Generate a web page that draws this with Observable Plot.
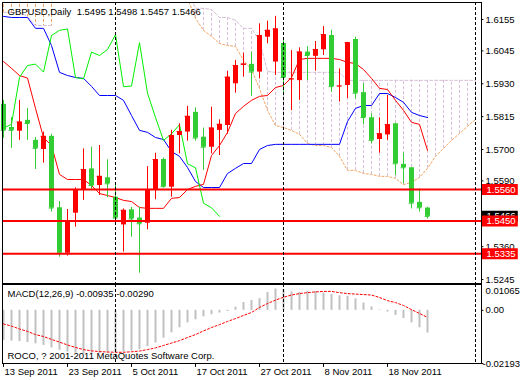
<!DOCTYPE html>
<html><head><meta charset="utf-8">
<script src="https://cdn.jsdelivr.net/npm/d3@7"></script>
<script src="https://cdn.jsdelivr.net/npm/@observablehq/plot@0.6"></script>
<style>
html,body{margin:0;padding:0;background:#fff;}
#wrap{position:relative;width:520px;height:380px;overflow:hidden;background:#fff;}
#main{position:absolute;left:0;top:0;}
#macd{position:absolute;left:0;top:283px;}
</style></head><body>
<div id="wrap"><div id="main"></div><div id="macd"></div></div>
<script>
// ---------- data ----------
const symbol = "GBPUSD", period = "Daily";
const opens  = [1.5858,1.5777,1.5764,1.5802,1.5732,1.5700,1.5746,1.5496,1.5337,1.5477,1.5560,1.5632,1.5574,1.5601,1.5533,1.5436,1.5489,1.5460,1.5442,1.5557,1.5665,1.5568,1.5749,1.5761,1.5830,1.5743,1.5708,1.5767,1.5784,1.5930,1.5994,1.5998,1.5971,1.6093,1.6006,1.6071,1.5944,1.5941,1.6041,1.6026,1.6049,1.6099,1.5920,1.5924,1.6085,1.5899,1.5811,1.5735,1.5751,1.5790,1.5648,1.5636,1.5515,1.5495];
const highs  = [1.5872,1.5812,1.5872,1.5844,1.5742,1.5761,1.5753,1.5518,1.5490,1.5566,1.5702,1.5708,1.5714,1.5664,1.5580,1.5492,1.5498,1.5498,1.5640,1.5687,1.5670,1.5767,1.5790,1.5851,1.5846,1.5775,1.5848,1.5804,1.5974,1.6012,1.6037,1.6041,1.6140,1.6149,1.6166,1.6084,1.6046,1.6056,1.6060,1.6078,1.6130,1.6117,1.5982,1.6075,1.6093,1.5931,1.5825,1.5811,1.5889,1.5792,1.5688,1.5636,1.5562,1.5498];
const lows   = [1.5739,1.5704,1.5732,1.5732,1.5630,1.5652,1.5481,1.5323,1.5327,1.5428,1.5522,1.5557,1.5539,1.5531,1.5446,1.5341,1.5393,1.5267,1.5419,1.5524,1.5565,1.5533,1.5685,1.5729,1.5729,1.5627,1.5685,1.5679,1.5753,1.5897,1.5953,1.5886,1.5947,1.6070,1.5959,1.5889,1.5836,1.5872,1.5941,1.5974,1.6029,1.5900,1.5866,1.5878,1.5877,1.5787,1.5720,1.5687,1.5732,1.5609,1.5580,1.5492,1.5481,1.5457];
const closes = [1.5767,1.5767,1.5796,1.5791,1.5704,1.5746,1.5495,1.5337,1.5449,1.5560,1.5630,1.5574,1.5606,1.5580,1.5460,1.5487,1.5457,1.5440,1.5560,1.5665,1.5570,1.5749,1.5763,1.5816,1.5740,1.5708,1.5775,1.5788,1.5953,1.5994,1.5999,1.5971,1.6099,1.6117,1.6122,1.5952,1.5947,1.6041,1.6029,1.6050,1.6102,1.5920,1.5922,1.6074,1.5897,1.5812,1.5732,1.5755,1.5787,1.5650,1.5636,1.5512,1.5496,1.5466];

const tenkan = [1.6008,1.5984,1.5959,1.5950,1.5844,1.5742,1.5714,1.5613,1.5595,1.5595,1.5595,1.5574,1.5546,1.5539,1.5532,1.5522,1.5518,1.5497,1.5494,1.5494,1.5494,1.5529,1.5532,1.5560,1.5571,1.5578,1.5679,1.5714,1.5760,1.5826,1.5851,1.5872,1.5886,1.5889,1.5917,1.5924,1.5952,1.6015,1.6019,1.6019,1.6019,1.6019,1.6015,1.6005,1.6001,1.5980,1.5949,1.5914,1.5910,1.5872,1.5837,1.5795,1.5788,1.5697];
const kijun  = [1.6166,1.6162,1.6162,1.6162,1.6124,1.6124,1.6064,1.5970,1.5959,1.5952,1.5949,1.5921,1.5889,1.5889,1.5889,1.5872,1.5819,1.5767,1.5760,1.5742,1.5735,1.5693,1.5676,1.5637,1.5588,1.5567,1.5567,1.5567,1.5616,1.5634,1.5651,1.5651,1.5700,1.5714,1.5718,1.5718,1.5718,1.5718,1.5718,1.5718,1.5718,1.5718,1.5718,1.5798,1.5844,1.5854,1.5854,1.5896,1.5896,1.5882,1.5865,1.5830,1.5819,1.5812];
const chikou = [1.5775,1.5788,1.5953,1.5994,1.5999,1.5971,1.6099,1.6117,1.6122,1.5952,1.5947,1.6041,1.6029,1.6050,1.6102,1.5920,1.5922,1.6074,1.5897,1.5812,1.5732,1.5755,1.5787,1.5650,1.5636,1.5512,1.5496,1.5466];
const spanA  = [1.6260,1.6260,1.6260,1.6260,1.6260,1.6260,1.6260,null,null,null,null,null,null,null,null,null,null,null,null,null,null,null,null,1.6229,1.6159,1.6117,1.6096,1.6071,1.6064,1.6061,1.6012,1.5980,1.5914,1.5837,1.5784,1.5777,1.5767,1.5753,1.5721,1.5714,1.5714,1.5707,1.5676,1.5627,1.5627,1.5616,1.5613,1.5606,1.5606,1.5599,1.5577,1.5585,1.5602,1.5634,1.5676,1.5704,1.5732,1.5756,1.5781,1.5805];
const spanB  = [1.6180,1.6180,1.6180,1.6166,1.6134,1.6134,1.6134,null,null,null,null,null,null,null,null,null,null,null,null,null,null,null,null,1.6257,1.6194,1.6194,1.6190,1.6162,1.6162,1.6152,1.6124,1.6124,1.6082,1.5973,1.5970,1.5970,1.5970,1.5970,1.5970,1.5970,1.5970,1.5970,1.5970,1.5942,1.5942,1.5942,1.5942,1.5942,1.5942,1.5942,1.5942,1.5942,1.5942,1.5942,1.5942,1.5942,1.5942,1.5942,1.5942,1.5942];

const macdMain   = [-0.0125,-0.0127,-0.0129,-0.0133,-0.0138,-0.0145,-0.0155,-0.0165,-0.0172,-0.0177,-0.0180,-0.0180,-0.0179,-0.0177,-0.0175,-0.0172,-0.0168,-0.0162,-0.0150,-0.0135,-0.0115,-0.0093,-0.0072,-0.0052,-0.0039,-0.0027,-0.0018,-0.0011,-0.0005,0.0013,0.0032,0.0041,0.0048,0.0074,0.0088,0.0085,0.0076,0.0074,0.0078,0.0078,0.0071,0.0065,0.0060,0.0058,0.0047,0.0030,0.0014,0.0002,-0.0007,-0.0021,-0.0034,-0.0052,-0.0072,-0.00935];
const macdSignal = [-0.0056,-0.0065,-0.0077,-0.0087,-0.0100,-0.0108,-0.0120,-0.0131,-0.0143,-0.0153,-0.0162,-0.0167,-0.0170,-0.0172,-0.0173,-0.0173,-0.0171,-0.0168,-0.0162,-0.0155,-0.0145,-0.0135,-0.0125,-0.0112,-0.0100,-0.0085,-0.0071,-0.0059,-0.0046,-0.0034,-0.0021,-0.0009,0.0012,0.0028,0.0042,0.0054,0.0063,0.0069,0.0073,0.0076,0.0078,0.0078,0.0073,0.0069,0.0067,0.0065,0.0063,0.0053,0.0040,0.0032,0.0020,0.0003,-0.0013,-0.00290];

const priceTicks = [1.6155,1.6045,1.5930,1.5815,1.5700,1.5590,1.5475,1.5360,1.5245];
const levels = [1.5560,1.5450,1.5335];
const separators = [14,35,59];
const dateIdx = [0,8,16,24,32,40,48];
const dateLabels = ["13 Sep 2011","23 Sep 2011","5 Oct 2011","17 Oct 2011","27 Oct 2011","8 Nov 2011","18 Nov 2011"];
const macdTop = 0.01065, macdZero = 0, macdBottom = -0.02193;
const priceRange = [1.5231, 1.62145];
const copyright = "ROCO, ? 2001-2011 MetaQuotes Software Corp.";

// ---------- build ----------
const X0 = -0.125, X1 = 59.75;
const n = closes.length, last = n - 1;
const candles = d3.range(n).map(i => ({i, o: opens[i], h: highs[i], l: lows[i], c: closes[i]}));
const col = d => d.c >= d.o ? "#ff0000" : "#32cd32";
const cloud = d3.range(spanA.length).map(i => ({i, a: spanA[i] ?? NaN, b: spanB[i] ?? NaN}));
const hatch = cloud.filter(d => isFinite(d.a) && isFinite(d.b));
const SANDY = "#f4a460", THISTLE = "#d8bfd8";
const font = {fontFamily: '"Liberation Sans", Arial, sans-serif', fontSize: "9.5px", background: "transparent", overflow: "visible"};
const title = `${symbol},${period}\u00a0\u00a0${opens[last].toFixed(4)} ${highs[last].toFixed(4)} ${lows[last].toFixed(4)} ${closes[last].toFixed(4)}`;
const macdTitle = `MACD(12,26,9) ${macdMain[last].toFixed(5)} ${macdSignal[last].toFixed(5)}`;
const txt = {textAnchor: "start", lineAnchor: "middle", fill: "black"};

const main = Plot.plot({
  width: 520, height: 284, marginTop: 2, marginBottom: 1, marginLeft: 2, marginRight: 39,
  x: {domain: [X0, X1], axis: null},
  y: {domain: priceRange, axis: null},
  style: font,
  marks: [
    Plot.ruleX(hatch, {x: "i", y1: "a", y2: "b", stroke: d => d.a > d.b ? SANDY : THISTLE, strokeWidth: 1, strokeDasharray: "3,2", clip: true}),
    Plot.line(cloud, {x: "i", y: "a", stroke: SANDY, strokeWidth: 1, strokeDasharray: "2,2", clip: true}),
    Plot.line(cloud, {x: "i", y: "b", stroke: THISTLE, strokeWidth: 1, strokeDasharray: "3,2", clip: true}),
    Plot.line(kijun, {x: (d, i) => i, y: d => d, stroke: "#0000ff", strokeWidth: 1, clip: true}),
    Plot.line(tenkan, {x: (d, i) => i, y: d => d, stroke: "#ff0000", strokeWidth: 1, clip: true}),
    Plot.line(chikou, {x: (d, i) => i, y: d => d, stroke: "#00f000", strokeWidth: 1, clip: true}),
    Plot.ruleX(candles, {x: "i", y1: "l", y2: "h", stroke: col, strokeWidth: 1}),
    Plot.ruleX(candles, {x: "i", y1: "o", y2: "c", stroke: col, strokeWidth: 5}),
    Plot.ruleY(candles, {y: "c", x1: d => d.i - 0.3, x2: d => d.i + 0.3, stroke: col, strokeWidth: 1}),
    Plot.ruleY(levels, {y: d => d, stroke: "#ff0000", strokeWidth: 2}),
    Plot.ruleX(separators, {x: d => d, stroke: "black", strokeWidth: 1, strokeDasharray: "3,2"}),
    Plot.frame({stroke: "black"}),
    Plot.text([title], {...txt, text: d => d, frameAnchor: "top-left", dx: 5, dy: 9}),
    Plot.ruleY(priceTicks, {y: d => d, x1: X1, x2: X1 + 0.3, stroke: "black", strokeWidth: 1}),
    Plot.text(priceTicks, {...txt, y: d => d, text: d => d.toFixed(4), frameAnchor: "right", dx: 4}),
    Plot.ruleY([closes[last]], {y: d => d, x1: X1 + 0.125, x2: X1 + 4.6, stroke: "black", strokeWidth: 11}),
    Plot.text([closes[last]], {...txt, y: d => d, text: d => d.toFixed(4), frameAnchor: "right", dx: 5, fill: "white"}),
    Plot.ruleY(levels, {y: d => d, x1: X1 + 0.125, x2: X1 + 4.6, stroke: "#ff0000", strokeWidth: 11}),
    Plot.text(levels, {...txt, y: d => d, text: d => d.toFixed(4), frameAnchor: "right", dx: 5, fill: "white"})
  ]
});
document.getElementById("main").append(main);

const macd = Plot.plot({
  width: 520, height: 97, marginTop: 1, marginBottom: 17, marginLeft: 2, marginRight: 39,
  x: {domain: [X0, X1], axis: null},
  y: {domain: [macdBottom, macdTop], axis: null},
  style: font,
  marks: [
    Plot.ruleX(macdMain, {x: (d, i) => i, y1: 0, y2: d => d, stroke: "#c0c0c0", strokeWidth: 2}),
    Plot.line(macdSignal, {x: (d, i) => i, y: d => d, stroke: "#ff0000", strokeWidth: 1, strokeDasharray: "2,2"}),
    Plot.ruleX(separators, {x: d => d, stroke: "black", strokeWidth: 1, strokeDasharray: "3,2"}),
    Plot.frame({stroke: "black"}),
    Plot.text([macdTitle], {...txt, text: d => d, frameAnchor: "top-left", dx: 5, dy: 9}),
    Plot.text([copyright], {...txt, text: d => d, frameAnchor: "bottom-left", dx: 5, dy: -8}),
    Plot.ruleY([macdZero, macdBottom], {y: d => d, x1: X1, x2: X1 + 0.3, stroke: "black", strokeWidth: 1}),
    Plot.text([macdTop], {...txt, y: d => d, text: d => d.toFixed(5), frameAnchor: "right", dx: 4, dy: 6}),
    Plot.text([macdZero], {...txt, y: d => d, text: d => d.toFixed(2), frameAnchor: "right", dx: 4}),
    Plot.text([macdBottom], {...txt, y: d => d, text: d => d.toFixed(5), frameAnchor: "right", dx: 1}),
    Plot.ruleX(dateIdx, {x: d => d, y1: macdBottom, y2: macdBottom - 0.0016, stroke: "black", strokeWidth: 1}),
    Plot.text(dateIdx, {...txt, x: d => d, text: (d, j) => dateLabels[j], frameAnchor: "bottom", dx: 1, dy: 8})
  ]
});
document.getElementById("macd").append(macd);
</script>
</body></html>
